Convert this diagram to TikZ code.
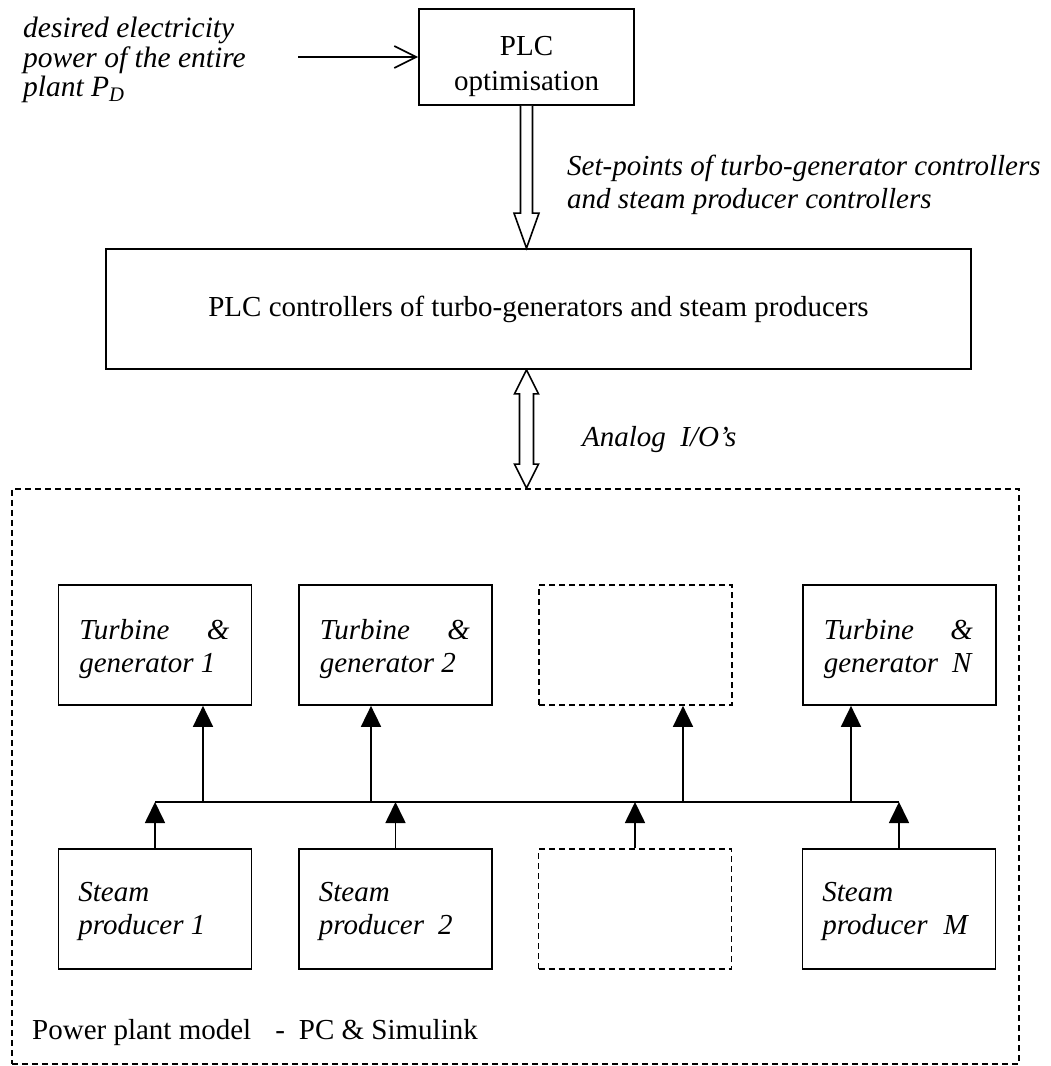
\documentclass[tikz,border=0pt]{standalone}
\usepackage{fontspec}
\setmainfont{Liberation Serif}
\usetikzlibrary{arrows.meta,calc}
\begin{document}
\begin{tikzpicture}[x=1bp,y=-1bp,
  every node/.style={font=\fontsize{29bp}{33bp}\selectfont, inner sep=0pt},
  frame/.style={draw, line width=1.7bp},
  box/.style={frame, minimum width=193bp, minimum height=120bp},
  dbox/.style={box, dash pattern=on 6bp off 4bp},
  lbl/.style={anchor=north west, align=left, font=\fontsize{29bp}{33bp}\selectfont\itshape},
  conn/.style={line width=1.7bp},
  up/.style={conn, -{Triangle[length=21bp,width=20bp]}},
  hollow/.style={line width=1.6bp, fill=white, line join=miter},
]
\useasboundingbox (0,0) rectangle (1051,1066);

% top boxes
\node[frame, minimum width=215bp, minimum height=96bp] (opt) at (526.5,57) {};
\node[align=center, font=\fontsize{29bp}{35bp}\selectfont] (optl) at (526.5,66) {PLC\\optimisation};
\node[frame, minimum width=865bp, minimum height=120bp] (ctrl) at (538.5,309) {PLC controllers of turbo-generators and steam producers};

% plant frame
\node[frame, dash pattern=on 6bp off 4bp, minimum width=1007bp, minimum height=575bp] (plant) at (515.5,776.5) {};

% turbines
\node[box] (t1) at (155,645) {};
\node[box] (t2) at (395.5,645) {};
\node[dbox] (t3) at (635.5,645) {};
\node[box] (tN) at (899.5,645) {};

% steam producers
\node[box] (s1) at (155,909) {};
\node[box] (s2) at (395.5,909) {};
\node[dbox] (s3) at (635,909) {};
\node[box] (sM) at (899,909) {};

% labels
\node[lbl] (t1l) at ($(t1.north west)+(21.5,35.2)$) {\makebox[150bp][l]{Turbine\hfill\&}\\generator 1};
\node[lbl] (t2l) at ($(t2.north west)+(21.5,35.2)$) {\makebox[150bp][l]{Turbine\hfill\&}\\generator 2};
\node[lbl] (tNl) at ($(tN.north west)+(21.5,35.2)$) {\makebox[149bp][l]{Turbine\hfill\&}\\generator\hspace{14bp}N};
\node[lbl] (s1l) at ($(s1.north west)+(20.5,33.7)$) {Steam\\producer 1};
\node[lbl] (s2l) at ($(s2.north west)+(20.5,33.7)$) {Steam\\producer\hspace{14bp}2};
\node[lbl] (sMl) at ($(sM.north west)+(20.5,33.7)$) {Steam\\producer\hspace{16bp}M};

\node[lbl, font=\fontsize{29.5bp}{29.5bp}\selectfont\itshape] (inl) at (23,17) {desired electricity\\power of the entire\\plant \textit{P}\textsubscript{\textit{D}}};
\node[lbl] (spl) at (567,155.2) {Set-points of turbo-generator controllers\\and steam producer controllers};
\node[anchor=base west, font=\fontsize{29bp}{33bp}\selectfont\itshape] (iol) at (582,446) {Analog\ \ I/O’s};
\node[anchor=base west] (ppl) at (32,1039) {Power plant model\hspace{24bp}-\hspace{14bp}PC \& Simulink};

% input arrow
\coordinate (src) at (298,57);
\draw[conn, -{Straight Barb[length=22bp,width=22bp]}] (src) -- (opt.west);

% hollow down arrow
\coordinate (dt) at (opt.south |- ctrl.north);
\draw[hollow] ($(opt.south)+(-6,0)$) -- ($(dt)+(-6,-35)$) -- ($(dt)+(-12.5,-35)$) -- (dt)
  -- ($(dt)+(12.5,-35)$) -- ($(dt)+(6,-35)$) -- ($(opt.south)+(6,0)$);

% hollow double arrow
\coordinate (u1) at (ctrl.south -| opt.south);
\coordinate (u2) at (plant.north -| opt.south);
\draw[hollow] (u1) -- ($(u1)+(12,24)$) -- ($(u1)+(7,24)$) -- ($(u2)+(7,-24)$) -- ($(u2)+(12,-24)$)
  -- (u2) -- ($(u2)+(-12,-24)$) -- ($(u2)+(-7,-24)$) -- ($(u1)+(-7,24)$) -- ($(u1)+(-12,24)$) -- cycle;

% bus
\coordinate (busy) at (0,802);
\draw[conn] (s1.north |- busy) -- (sM.north |- busy);
\foreach \s in {s1,s2,s3,sM}{\draw[up] (\s.north) -- (\s.north |- busy);}
\coordinate (a1) at ($(t1.south)+(48,0)$);
\coordinate (a2) at ($(t2.south)+(-24.5,0)$);
\coordinate (a3) at ($(t3.south)+(47.5,0)$);
\coordinate (aN) at ($(tN.south)+(-48.5,0)$);
\foreach \a in {a1,a2,a3,aN}{\draw[up] (\a |- busy) -- (\a);}
\end{tikzpicture}
\end{document}
